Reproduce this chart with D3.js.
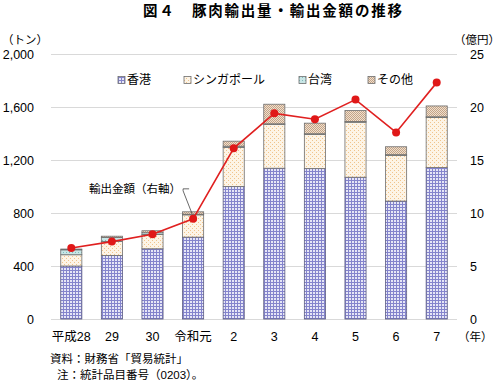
<!DOCTYPE html>
<html>
<head>
<meta charset="utf-8">
<script src="https://cdn.jsdelivr.net/npm/d3@7"></script>
<style>
  body { margin: 0; background: #fff; }
  svg text { font-family: "Liberation Sans", "Noto Sans CJK JP", sans-serif; fill: #000; }
</style>
</head>
<body>
<div id="chart"></div>
<script>
// data
const years = ['平成28', '29', '30', '令和元', '2', '3', '4', '5', '6', '7'];
const hongKong = [400, 480, 530, 618, 1000, 1138, 1135, 1070, 890, 1143];
const singapore = [85, 105, 108, 168, 294, 330, 258, 415, 345, 378];
const taiwan = [37, 30, 13, 5, 10, 5, 5, 5, 5, 5];
const others = [6, 10, 15, 18, 38, 148, 80, 83, 60, 82];
const exportValue = [6.7, 7.3, 8.0, 9.45, 16.1, 19.4, 18.85, 20.7, 17.6, 22.3];
const leftTicks = [0, 400, 800, 1200, 1600, 2000];
const rightTicks = [0, 5, 10, 15, 20, 25];
const seriesNames = ['香港', 'シンガポール', '台湾', 'その他'];

const width = 500, height = 382;
const margin = { top: 54, right: 43, bottom: 63, left: 51 };

const svg = d3.select('#chart').append('svg')
    .attr('width', width)
    .attr('height', height);

// fill patterns
const defs = svg.append('defs');
function addPattern(id, bg, size, draw) {
    const p = defs.append('pattern')
        .attr('id', id)
        .attr('patternUnits', 'userSpaceOnUse')
        .attr('width', size).attr('height', size);
    p.append('rect').attr('width', size).attr('height', size).attr('fill', bg);
    draw(p);
}
addPattern('pHK', '#e6e6f6', 3, p => {
    p.append('rect').attr('x', 0).attr('y', 0).attr('width', 3).attr('height', 1).attr('fill', '#8484cc');
    p.append('rect').attr('x', 0).attr('y', 0).attr('width', 1).attr('height', 3).attr('fill', '#8484cc');
});
addPattern('pSG', '#fdf4e6', 4, p => {
    p.append('rect').attr('x', 0).attr('y', 0).attr('width', 1).attr('height', 1).attr('fill', '#f0c48c');
    p.append('rect').attr('x', 2).attr('y', 2).attr('width', 1).attr('height', 1).attr('fill', '#f0c48c');
});
addPattern('pTW', '#c8e6e6', 3, p => {
    p.append('rect').attr('x', 0).attr('y', 0).attr('width', 1).attr('height', 1).attr('fill', '#80b8b8');
});
addPattern('pOT', '#efdfcf', 2, p => {
    p.append('rect').attr('x', 0).attr('y', 0).attr('width', 1).attr('height', 1).attr('fill', '#c4a486');
    p.append('rect').attr('x', 1).attr('y', 1).attr('width', 1).attr('height', 1).attr('fill', '#c4a486');
});
const fills = ['url(#pHK)', 'url(#pSG)', 'url(#pTW)', 'url(#pOT)'];

const x = d3.scaleBand()
    .domain(years)
    .range([margin.left, width - margin.right])
    .paddingInner(0.48)
    .paddingOuter(0.24);

const yL = d3.scaleLinear().domain([0, 2000]).range([height - margin.bottom, margin.top]);
const yR = d3.scaleLinear().domain([0, 25]).range([height - margin.bottom, margin.top]);

// gridlines
svg.append('g')
    .selectAll('line')
    .data(leftTicks)
    .join('line')
    .attr('x1', margin.left)
    .attr('x2', width - margin.right)
    .attr('y1', d => yL(d) + 0.5)
    .attr('y2', d => yL(d) + 0.5)
    .attr('stroke', '#d9d9d9')
    .attr('stroke-width', 1);

// left axis
const leftAxis = svg.append('g')
    .attr('transform', 'translate(34,0)')
    .call(d3.axisLeft(yL).tickValues(leftTicks).tickFormat(d3.format(',')).tickSize(0).tickPadding(0));
leftAxis.select('.domain').remove();
leftAxis.selectAll('text').style('font-size', '12.5px').attr('dy', '0.35em');

// right axis
const rightAxis = svg.append('g')
    .attr('transform', 'translate(470,0)')
    .call(d3.axisRight(yR).tickValues(rightTicks).tickSize(0).tickPadding(0));
rightAxis.select('.domain').remove();
rightAxis.selectAll('text').style('font-size', '12.5px').attr('dy', '0.35em');

// stacked bars
const rows = years.map((yr, i) => ({
    year: yr, '香港': hongKong[i], 'シンガポール': singapore[i], '台湾': taiwan[i], 'その他': others[i]
}));
const stack = d3.stack().keys(seriesNames)(rows);

const barG = svg.append('g');
stack.forEach((layer, k) => {
    barG.append('g')
        .selectAll('rect')
        .data(layer)
        .join('rect')
        .attr('x', d => x(d.data.year))
        .attr('y', d => yL(d[1]))
        .attr('width', x.bandwidth())
        .attr('height', d => yL(d[0]) - yL(d[1]))
        .attr('fill', fills[k])
        .attr('stroke', k === 0 ? '#5a5a80' : '#6e6e6e')
        .attr('stroke-width', 0.8);
});

// export value line
const line = d3.line()
    .x((d, i) => x(years[i]) + x.bandwidth() / 2)
    .y(d => yR(d));

svg.append('path')
    .datum(exportValue)
    .attr('d', line)
    .attr('fill', 'none')
    .attr('stroke', '#e02020')
    .attr('stroke-width', 1.6);

svg.append('g')
    .selectAll('circle')
    .data(exportValue)
    .join('circle')
    .attr('cx', (d, i) => x(years[i]) + x.bandwidth() / 2)
    .attr('cy', d => yR(d))
    .attr('r', 4)
    .attr('fill', '#e01818');

// annotation for the line
const annX = x(years[3]) + x.bandwidth() / 2;
const annY = yR(exportValue[3]);
svg.append('polyline')
    .attr('points', `${annX - 4},${annY - 30} ${annX - 10},${annY - 30} ${annX - 10},${annY - 28} ${annX - 1},${annY - 5}`)
    .attr('fill', 'none')
    .attr('stroke', '#444')
    .attr('stroke-width', 0.8);
svg.append('text')
    .attr('x', annX - 12)
    .attr('y', annY - 30)
    .attr('dy', '0.35em')
    .attr('text-anchor', 'end')
    .style('font-size', '11.5px')
    .text('輸出金額（右軸）');

// x labels
svg.append('g')
    .selectAll('text')
    .data(years)
    .join('text')
    .attr('x', d => x(d) + x.bandwidth() / 2)
    .attr('y', 337)
    .attr('dy', '0.35em')
    .attr('text-anchor', 'middle')
    .style('font-size', '12.5px')
    .text(d => d);

svg.append('text')
    .attr('x', 458).attr('y', 337).attr('dy', '0.35em')
    .style('font-size', '11.5px')
    .text('（年）');

// axis units
svg.append('text')
    .attr('x', 2).attr('y', 40).attr('dy', '0.35em')
    .style('font-size', '11.5px')
    .text('（トン）');
svg.append('text')
    .attr('x', 500).attr('y', 40).attr('dy', '0.35em')
    .attr('text-anchor', 'end')
    .style('font-size', '11.5px')
    .text('（億円）');

// title
svg.append('text')
    .attr('x', 143).attr('y', 11).attr('dy', '0.35em')
    .style('font-size', '14.5px')
    .style('font-weight', 'bold')
    .style('letter-spacing', '1.8px')
    .text('図４　豚肉輸出量・輸出金額の推移');

// legend
const legendX = [118, 184, 299, 368];
const legend = svg.append('g')
    .selectAll('g')
    .data(seriesNames)
    .join('g')
    .attr('transform', (d, i) => `translate(${legendX[i]},80)`);
legend.append('rect')
    .attr('x', 0).attr('y', -3.5)
    .attr('width', 7).attr('height', 7)
    .attr('fill', (d, i) => fills[i])
    .attr('stroke', '#6e6e6e')
    .attr('stroke-width', 0.8);
legend.append('text')
    .attr('x', 9).attr('y', 0).attr('dy', '0.35em')
    .style('font-size', '12px')
    .text(d => d);

// source notes
svg.append('text')
    .attr('x', 50).attr('y', 359).attr('dy', '0.35em')
    .style('font-size', '11.5px')
    .text('資料：財務省「貿易統計」');
svg.append('text')
    .attr('x', 57).attr('y', 375).attr('dy', '0.35em')
    .style('font-size', '11.5px')
    .text('注：統計品目番号（0203）。');
</script>
</body>
</html>
